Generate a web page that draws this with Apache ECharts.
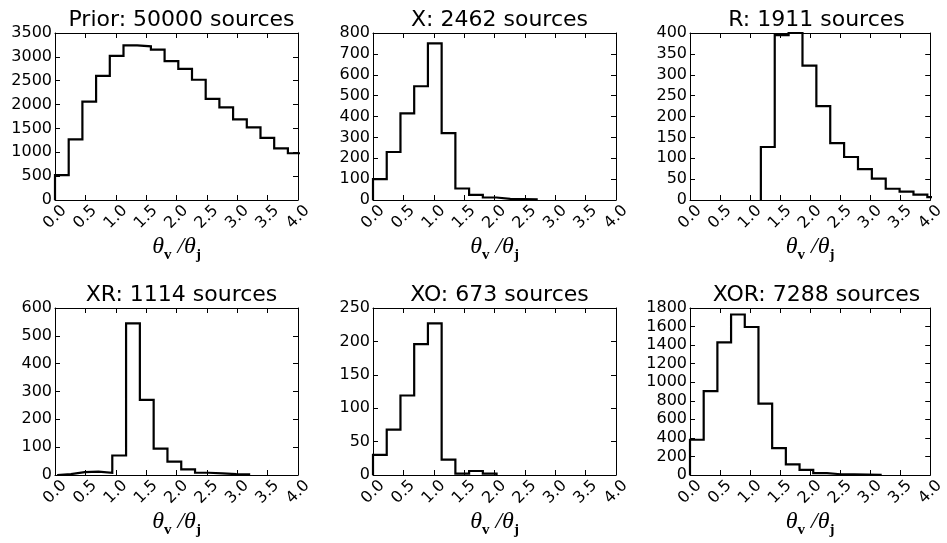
<!DOCTYPE html>
<html>
<head>
<meta charset="utf-8">
<script src="https://cdn.jsdelivr.net/npm/echarts@6/dist/echarts.min.js"></script>
<style>
  html, body { margin: 0; padding: 0; background: #fff; }
  #chart { width: 947px; height: 543px; }
</style>
</head>
<body>
<div id="chart"></div>
<script>
// histogram counts per bin
const priorCounts = [520, 1270, 2060, 2600, 3020, 3240, 3220, 3150, 2910, 2750, 2520, 2120, 1940, 1690, 1520, 1300, 1080, 980];
const xCounts = [100, 230, 415, 545, 750, 320, 55, 25, 12, 5, 4, 3];
const rCounts = [127, 395, 400, 322, 225, 136, 103, 74, 51, 27, 20, 13, 7];
const xrCounts = [3, 10, 12, 8, 70, 545, 270, 95, 48, 20, 8, 6, 3, 2];
const xoCounts = [30, 68, 119, 196, 227, 23, 2, 6, 2];
const xorCounts = [380, 905, 1430, 1730, 1595, 770, 290, 115, 55, 20, 8, 6, 4, 2];

const panelTitles = ["Prior: 50000 sources", "X: 2462 sources", "R: 1911 sources",
                     "XR: 1114 sources", "XO: 673 sources", "XOR: 7288 sources"];
const panelCounts = [priorCounts, xCounts, rCounts, xrCounts, xoCounts, xorCounts];
// first bin edge and bin width of each histogram
const binStarts = [0, 0, 1.18, 0.035, 0, 0];
const binWidths = [0.2255, 0.226, 0.231, 0.227, 0.226, 0.228];
const yMaxes = [3500, 800, 400, 600, 250, 1800];
const yIntervals = [500, 100, 50, 100, 50, 200];

const FONT = "DejaVu Sans";
const lefts = [55, 373, 690];
const tops = [33, 308];
const W = 243, H = 167;

// step outline: up at the first edge, across each bin, down at the last edge
function stepData(i) {
  const c = panelCounts[i], s = binStarts[i], w = binWidths[i];
  const pts = [[s, 0]];
  c.forEach((v, k) => pts.push([s + k * w, v]));
  pts.push([s + c.length * w, 0]);
  return pts;
}

const grids = [], xAxes = [], yAxes = [], series = [], titles = [];
const spine = { show: true, onZero: false, lineStyle: { color: "#000", width: 1 } };
const tick = { show: true, inside: true, length: 5, lineStyle: { color: "#000", width: 1 } };

for (let i = 0; i < 6; i++) {
  const left = lefts[i % 3], top = tops[Math.floor(i / 3)];
  grids.push({ left: left, top: top, width: W, height: H });
  titles.push({
    text: panelTitles[i], left: left + W / 2, top: top - 29, textAlign: "center",
    textStyle: { fontFamily: FONT, fontSize: 22, fontWeight: "normal", color: "#000" }
  });
  xAxes.push({
    gridIndex: i, type: "value", min: 0, max: 4, interval: 0.5,
    axisLine: spine, axisTick: tick, splitLine: { show: false },
    axisLabel: {
      rotate: 45, align: "center", verticalAlign: "middle", margin: 17,
      fontFamily: FONT, fontSize: 16, color: "#000",
      formatter: v => v.toFixed(1)
    },
    name: "{t|θ}{s|v}{t| /θ}{s|j}", nameLocation: "middle", nameGap: 31,
    nameTextStyle: {
      rich: {
        t: { fontFamily: "Liberation Serif", fontStyle: "italic", fontSize: 24, color: "#000", verticalAlign: "top", lineHeight: 26 },
        s: { fontFamily: "Liberation Serif", fontWeight: "bold", fontSize: 15, color: "#000", verticalAlign: "top", lineHeight: 15, padding: [13, 0, 0, 0] }
      }
    }
  });
  xAxes.push({
    gridIndex: i, type: "value", position: "top", min: 0, max: 4, interval: 0.5,
    axisLine: spine, axisTick: tick, axisLabel: { show: false }, splitLine: { show: false }
  });
  yAxes.push({
    gridIndex: i, type: "value", min: 0, max: yMaxes[i], interval: yIntervals[i],
    axisLine: spine, axisTick: tick, splitLine: { show: false },
    axisLabel: { margin: 3, fontFamily: FONT, fontSize: 16, color: "#000", formatter: v => String(v) }
  });
  yAxes.push({
    gridIndex: i, type: "value", position: "right", min: 0, max: yMaxes[i], interval: yIntervals[i],
    axisLine: spine, axisTick: tick, axisLabel: { show: false }, splitLine: { show: false }
  });
  series.push({
    type: "line", xAxisIndex: 2 * i, yAxisIndex: 2 * i, step: "end",
    data: stepData(i), symbol: "none", clip: true,
    lineStyle: { color: "#000", width: 2.2, join: "miter" }
  });
}

const chart = echarts.init(document.getElementById("chart"), null, { renderer: "canvas" });
chart.setOption({
  animation: false,
  backgroundColor: "#fff",
  title: titles,
  grid: grids,
  xAxis: xAxes,
  yAxis: yAxes,
  series: series
});
</script>
</body>
</html>
